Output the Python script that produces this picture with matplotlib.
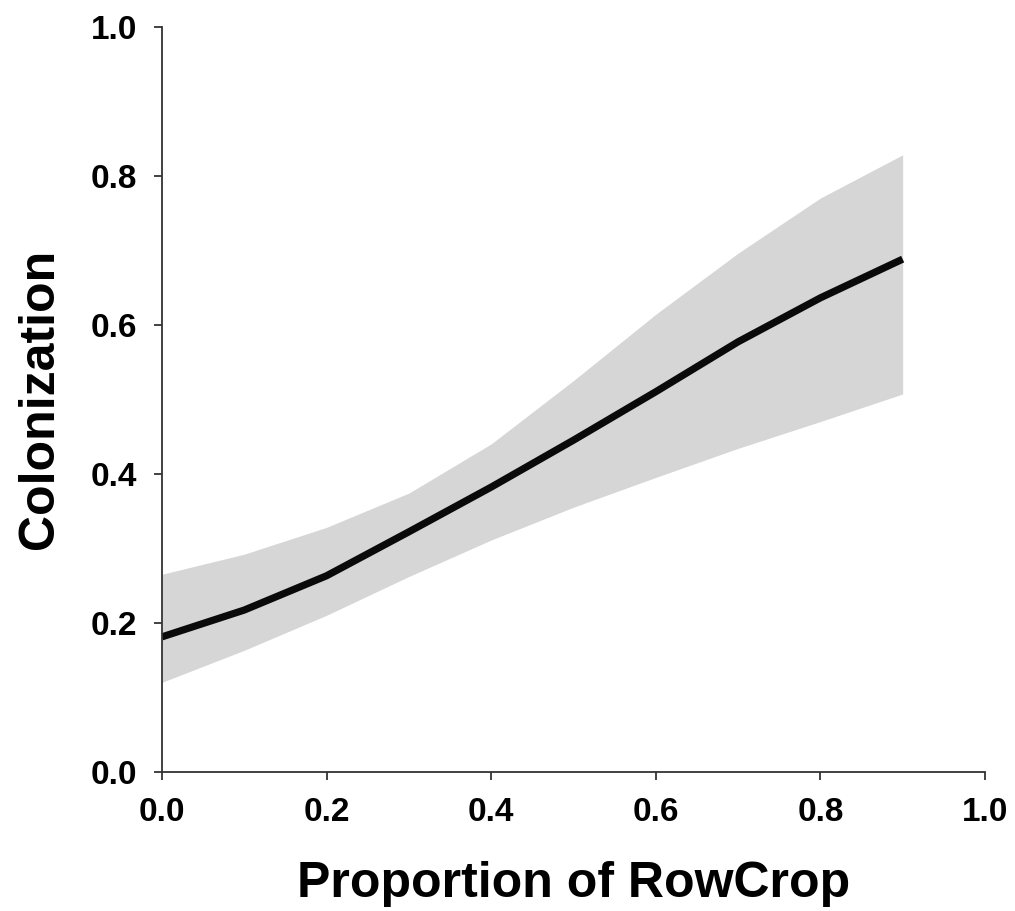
import matplotlib
matplotlib.use("Agg")
import matplotlib.pyplot as plt

# Fitted colonization curve with its confidence band
rowcrop = [0.0, 0.1, 0.2, 0.3, 0.4, 0.5, 0.6, 0.7, 0.8, 0.9]
fit = [0.181, 0.217, 0.263, 0.322, 0.382, 0.445, 0.510, 0.577, 0.636, 0.688]
upper = [0.265, 0.292, 0.328, 0.374, 0.440, 0.525, 0.614, 0.696, 0.770, 0.828]
lower = [0.120, 0.163, 0.210, 0.262, 0.311, 0.355, 0.395, 0.434, 0.470, 0.507]

ticks = [0.0, 0.2, 0.4, 0.6, 0.8, 1.0]
tick_labels = ["0.0", "0.2", "0.4", "0.6", "0.8", "1.0"]

plt.rcParams["font.family"] = ["Liberation Sans", "DejaVu Sans"]
plt.rcParams["font.weight"] = "bold"

fig = plt.figure(figsize=(10.15, 9.11), dpi=100)
ax = fig.add_axes([0.1596, 0.1529, 0.8108, 0.8178])

ax.fill_between(rowcrop, lower, upper, color="#d6d6d6", linewidth=0)
ax.plot(rowcrop, fit, color="#0a0a0a", linewidth=5.2,
        solid_capstyle="butt", solid_joinstyle="round")

ax.set_xlim(0, 1)
ax.set_ylim(0, 1)
ax.set_xticks(ticks)
ax.set_xticklabels(tick_labels)
ax.set_yticks(ticks)
ax.set_yticklabels(tick_labels)

for side in ["top", "right"]:
    ax.spines[side].set_visible(False)
for side in ["left", "bottom"]:
    ax.spines[side].set_linewidth(1.3)
    ax.spines[side].set_color("#333333")

ax.tick_params(axis="both", direction="out", length=6, width=1.3,
               color="#333333", labelsize=24)
ax.tick_params(axis="x", pad=12)
ax.tick_params(axis="y", pad=12)

ax.set_xlabel("Proportion of RowCrop", fontsize=36, fontweight="bold", labelpad=24)
ax.set_ylabel("Colonization", fontsize=36, fontweight="bold", labelpad=20)

fig.savefig("out.png", dpi=100)
